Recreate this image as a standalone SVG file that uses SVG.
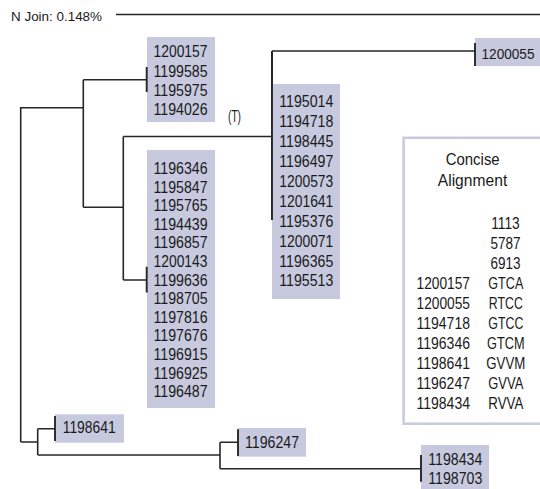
<svg xmlns="http://www.w3.org/2000/svg" width="540" height="489" viewBox="0 0 540 489">
<style>
text{font-family:"Liberation Sans",Arial,sans-serif;fill:#1a1a1a;font-size:16px}
.box{fill:#c7cadf}
.ln{fill:none;stroke:#262626;stroke-width:1.6}
.tk{fill:none;stroke:#262626;stroke-width:1.9}
.m{text-anchor:middle}
</style>
<rect width="540" height="489" fill="#ffffff"/>
<g id="title">
<text x="11" y="20.5" style="font-size:13px" textLength="91" lengthAdjust="spacingAndGlyphs">N Join: 0.148%</text>
<line x1="116" y1="14.5" x2="540" y2="14.5" class="ln"/>
</g>
<g id="connectors">
<path class="ln" d="M20.7,442 V107.7 H83.3 M83.3,79.7 V207.3 M83.3,79.7 H146.7 M83.3,207.3 H123.3 M123.3,136.5 V280 M123.3,136.5 H272 M123.3,280 H146.7 M272,51 V220 M272,51 H475 M20.7,442 H37.7 M37.7,428.7 V455 M37.7,428.7 H55 M37.7,455 H220 M220,442.3 V468.7 M220,442.3 H238 M220,468.7 H421"/>
</g>
<g id="node-g1">
<rect class="box" x="147" y="37" width="68" height="85"/>
<line class="tk" x1="146.7" y1="67" x2="146.7" y2="92"/>
<text x="153.5" y="57.4" textLength="54" lengthAdjust="spacingAndGlyphs">1200157</text>
<text x="153.5" y="76.6" textLength="54" lengthAdjust="spacingAndGlyphs">1199585</text>
<text x="153.5" y="95.8" textLength="54" lengthAdjust="spacingAndGlyphs">1195975</text>
<text x="153.5" y="115" textLength="54" lengthAdjust="spacingAndGlyphs">1194026</text>
</g>
<g id="node-T">
<text x="228" y="122" textLength="13" lengthAdjust="spacingAndGlyphs">(T)</text>
</g>
<g id="node-g2">
<rect class="box" x="147" y="150" width="68" height="258"/>
<line class="tk" x1="146.7" y1="266.7" x2="146.7" y2="292.5"/>
<text x="153.5" y="174" textLength="54" lengthAdjust="spacingAndGlyphs">1196346</text>
<text x="153.5" y="192.6" textLength="54" lengthAdjust="spacingAndGlyphs">1195847</text>
<text x="153.5" y="211.2" textLength="54" lengthAdjust="spacingAndGlyphs">1195765</text>
<text x="153.5" y="229.8" textLength="54" lengthAdjust="spacingAndGlyphs">1194439</text>
<text x="153.5" y="248.4" textLength="54" lengthAdjust="spacingAndGlyphs">1196857</text>
<text x="153.5" y="267" textLength="54" lengthAdjust="spacingAndGlyphs">1200143</text>
<text x="153.5" y="285.6" textLength="54" lengthAdjust="spacingAndGlyphs">1199636</text>
<text x="153.5" y="304.2" textLength="54" lengthAdjust="spacingAndGlyphs">1198705</text>
<text x="153.5" y="322.8" textLength="54" lengthAdjust="spacingAndGlyphs">1197816</text>
<text x="153.5" y="341.4" textLength="54" lengthAdjust="spacingAndGlyphs">1197676</text>
<text x="153.5" y="360" textLength="54" lengthAdjust="spacingAndGlyphs">1196915</text>
<text x="153.5" y="378.6" textLength="54" lengthAdjust="spacingAndGlyphs">1196925</text>
<text x="153.5" y="397.2" textLength="54" lengthAdjust="spacingAndGlyphs">1196487</text>
</g>
<g id="node-g3">
<rect class="box" x="272" y="84" width="68" height="215"/>
<line class="tk" x1="272" y1="51" x2="272" y2="220"/>
<text x="279.3" y="107.3" textLength="54" lengthAdjust="spacingAndGlyphs">1195014</text>
<text x="279.3" y="127.2" textLength="54" lengthAdjust="spacingAndGlyphs">1194718</text>
<text x="279.3" y="147.1" textLength="54" lengthAdjust="spacingAndGlyphs">1198445</text>
<text x="279.3" y="167" textLength="54" lengthAdjust="spacingAndGlyphs">1196497</text>
<text x="279.3" y="186.9" textLength="54" lengthAdjust="spacingAndGlyphs">1200573</text>
<text x="279.3" y="206.8" textLength="54" lengthAdjust="spacingAndGlyphs">1201641</text>
<text x="279.3" y="226.7" textLength="54" lengthAdjust="spacingAndGlyphs">1195376</text>
<text x="279.3" y="246.6" textLength="54" lengthAdjust="spacingAndGlyphs">1200071</text>
<text x="279.3" y="266.5" textLength="54" lengthAdjust="spacingAndGlyphs">1196365</text>
<text x="279.3" y="286.4" textLength="54" lengthAdjust="spacingAndGlyphs">1195513</text>
</g>
<g id="node-1200055">
<rect class="box" x="475" y="38" width="65" height="28"/>
<line class="tk" x1="475" y1="43" x2="475" y2="66"/>
<text x="481.5" y="58.5" style="font-size:14.5px" textLength="53" lengthAdjust="spacingAndGlyphs">1200055</text>
</g>
<g id="node-1198641">
<rect class="box" x="55" y="414.3" width="69" height="28.4"/>
<line class="tk" x1="55" y1="416" x2="55" y2="441"/>
<text x="62.7" y="433.3" textLength="53" lengthAdjust="spacingAndGlyphs">1198641</text>
</g>
<g id="node-1196247">
<rect class="box" x="238" y="428" width="68" height="28.7"/>
<line class="tk" x1="238" y1="429.3" x2="238" y2="456"/>
<text x="245" y="447.7" textLength="54" lengthAdjust="spacingAndGlyphs">1196247</text>
</g>
<g id="node-1198434">
<rect class="box" x="421" y="445" width="68" height="44"/>
<line class="tk" x1="421" y1="455" x2="421" y2="481.7"/>
<text x="428.3" y="465" textLength="54" lengthAdjust="spacingAndGlyphs">1198434</text>
<text x="428.3" y="484" textLength="54" lengthAdjust="spacingAndGlyphs">1198703</text>
</g>
<g id="alignment">
<rect x="403.6" y="137.8" width="150" height="285.9" fill="#ffffff" stroke="#c9cce0" stroke-width="2.6"/>
<text class="m" x="472.7" y="165" textLength="54" lengthAdjust="spacingAndGlyphs">Concise</text>
<text class="m" x="472.5" y="185.5" textLength="69.5" lengthAdjust="spacingAndGlyphs">Alignment</text>
<text class="m" x="505.5" y="228.5" textLength="28.5" lengthAdjust="spacingAndGlyphs">1113</text>
<text class="m" x="505.5" y="248.5" textLength="30" lengthAdjust="spacingAndGlyphs">5787</text>
<text class="m" x="505.5" y="268.5" textLength="30" lengthAdjust="spacingAndGlyphs">6913</text>
<text x="416.5" y="288.5" textLength="53.5" lengthAdjust="spacingAndGlyphs">1200157</text>
<text x="416.5" y="308.5" textLength="53.5" lengthAdjust="spacingAndGlyphs">1200055</text>
<text x="416.5" y="328.5" textLength="53.5" lengthAdjust="spacingAndGlyphs">1194718</text>
<text x="416.5" y="348.5" textLength="53.5" lengthAdjust="spacingAndGlyphs">1196346</text>
<text x="416.5" y="368.5" textLength="53.5" lengthAdjust="spacingAndGlyphs">1198641</text>
<text x="416.5" y="388.5" textLength="53.5" lengthAdjust="spacingAndGlyphs">1196247</text>
<text x="416.5" y="408.5" textLength="53.5" lengthAdjust="spacingAndGlyphs">1198434</text>
<text class="m" x="505.8" y="288.5" textLength="35" lengthAdjust="spacingAndGlyphs">GTCA</text>
<text class="m" x="505.8" y="308.5" textLength="34" lengthAdjust="spacingAndGlyphs">RTCC</text>
<text class="m" x="505.8" y="328.5" textLength="35" lengthAdjust="spacingAndGlyphs">GTCC</text>
<text class="m" x="505.8" y="348.5" textLength="37.5" lengthAdjust="spacingAndGlyphs">GTCM</text>
<text class="m" x="505.8" y="368.5" textLength="39" lengthAdjust="spacingAndGlyphs">GVVM</text>
<text class="m" x="505.8" y="388.5" textLength="35" lengthAdjust="spacingAndGlyphs">GVVA</text>
<text class="m" x="505.8" y="408.5" textLength="35" lengthAdjust="spacingAndGlyphs">RVVA</text>
</g>
</svg>
